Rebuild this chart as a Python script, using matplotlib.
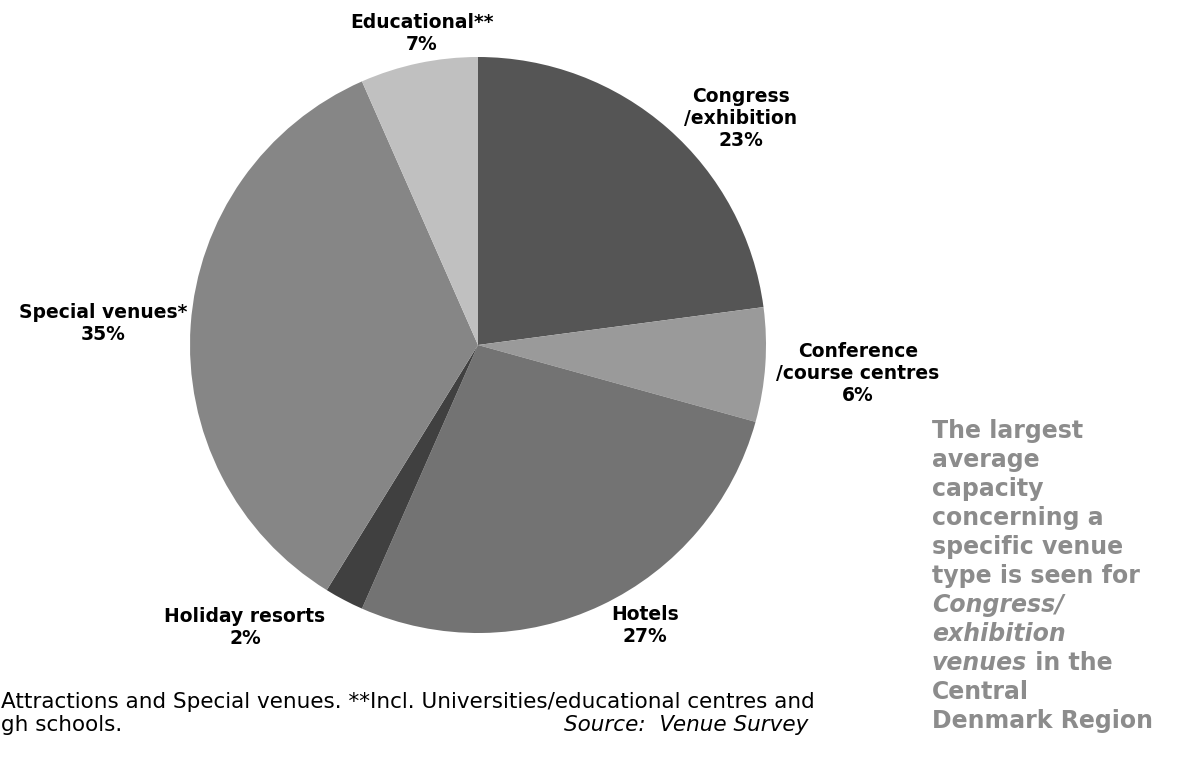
import matplotlib
matplotlib.use("Agg")
import matplotlib.pyplot as plt

categories = ["Congress\n/exhibition", "Conference\n/course centres", "Hotels",
              "Holiday resorts", "Special venues*", "Educational**"]
values = [22.9, 6.4, 27.3, 2.2, 34.6, 6.6]
colors = ["#555555", "#9a9a9a", "#737373", "#404040", "#868686", "#c0c0c0"]

W, H = 1182, 771
fig = plt.figure(figsize=(W / 100, H / 100), dpi=100)
cx, cy, r = 478, 345, 288
ax = fig.add_axes([(cx - r) / W, (H - cy - r) / H, 2 * r / W, 2 * r / H])
wedges, _ = ax.pie(values, colors=colors, startangle=90, counterclock=False,
                   radius=1.0, wedgeprops=dict(linewidth=0))
ax.set_xlim(-1, 1)
ax.set_ylim(-1, 1)
ax.set_aspect("equal")
ax.axis("off")

# label positions (pixel centres of label blocks)
label_pos = [(741, 118), (858, 373), (645, 626), (245, 627), (103, 323), (422, 33)]
total = sum(values)
for cat, v, (px, py) in zip(categories, values, label_pos):
    txt = f"{cat}\n{round(v / total * 100):.0f}%"
    fig.text(px / W, 1 - py / H, txt, ha="center", va="center",
             fontsize=13.5, fontweight="bold", family="DejaVu Sans",
             linespacing=1.2, color="black")

# footnote
foot_font = dict(family="DejaVu Sans", fontsize=15.5, color="black")
fig.text(1 / W, 1 - 702 / H,
         "Attractions and Special venues. **Incl. Universities/educational centres and",
         ha="left", va="center", **foot_font)
fig.text(1 / W, 1 - 725 / H, "gh schools.", ha="left", va="center", **foot_font)
fig.text(808 / W, 1 - 725 / H, "Source:  Venue Survey", ha="right", va="center",
         style="italic", **foot_font)

# side note
gray = "#8c8c8c"
side_lines = [
    [("The largest", "normal")],
    [("average", "normal")],
    [("capacity", "normal")],
    [("concerning a", "normal")],
    [("specific venue", "normal")],
    [("type is seen for", "normal")],
    [("Congress/", "italic")],
    [("exhibition", "italic")],
    [("venues", "italic"), (" in the", "normal")],
    [("Central", "normal")],
    [("Denmark Region", "normal")],
]
x0 = 932
y0 = 431
dy = 29
renderer = fig.canvas.get_renderer()
for i, parts in enumerate(side_lines):
    x = x0
    y = y0 + i * dy
    for s, st in parts:
        t = fig.text(x / W, 1 - y / H, s, ha="left", va="center", fontsize=17,
                     fontweight="bold", style=st, family="DejaVu Sans", color=gray)
        bb = t.get_window_extent(renderer=renderer)
        x += bb.width

fig.savefig("out.png", dpi=100, facecolor="white")
